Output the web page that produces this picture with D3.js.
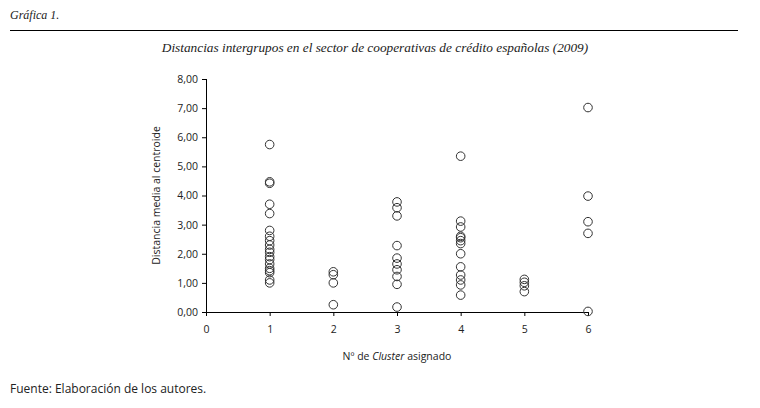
<!DOCTYPE html>
<html>
<head>
<meta charset="utf-8">
<script src="https://cdn.jsdelivr.net/npm/d3@7"></script>
<style>
  body { margin: 0; background: #fff; }
  text { fill: #222; }
</style>
</head>
<body>
<div id="chart"></div>
<script>
// Distancias intergrupos, one array per cluster
var cluster1 = [5.75, 4.47, 4.42, 3.70, 3.38, 2.80, 2.60, 2.45, 2.30, 2.15, 2.05, 1.90, 1.80, 1.65, 1.50, 1.42, 1.35, 1.10, 1.00];
var cluster2 = [1.38, 1.28, 1.00, 0.25];
var cluster3 = [3.78, 3.58, 3.30, 2.28, 1.85, 1.65, 1.45, 1.22, 0.95, 0.17];
var cluster4 = [5.35, 3.12, 2.92, 2.60, 2.55, 2.45, 2.35, 2.00, 1.55, 1.27, 1.10, 0.93, 0.58];
var cluster5 = [1.12, 1.02, 0.90, 0.70];
var cluster6 = [7.02, 3.98, 3.10, 2.70, 0.02];

var clusters = [cluster1, cluster2, cluster3, cluster4, cluster5, cluster6];
var xTicks = [0, 1, 2, 3, 4, 5, 6];
var yTicks = [0, 1, 2, 3, 4, 5, 6, 7, 8];

var svgWidth = 760,
    svgHeight = 408;

var margin = {left: 206, right: 172, top: 79, bottom: 96};
var width = svgWidth - margin.left - margin.right,
    height = svgHeight - margin.top - margin.bottom;

var svg = d3.select("#chart")
    .append("svg")
        .attr("width", svgWidth)
        .attr("height", svgHeight);

// Header
svg.append("text")
    .attr("x", 10)
    .attr("y", 19)
    .attr("font-family", "Liberation Serif, serif")
    .attr("font-style", "italic")
    .attr("font-size", "12px")
    .text("Gráfica 1.");

svg.append("line")
    .attr("x1", 10).attr("x2", 738)
    .attr("y1", 30.5).attr("y2", 30.5)
    .attr("stroke", "#000")
    .attr("stroke-width", 1);

svg.append("text")
    .attr("x", 375)
    .attr("y", 52)
    .attr("text-anchor", "middle")
    .attr("font-family", "Liberation Serif, serif")
    .attr("font-style", "italic")
    .attr("font-size", "13.3px")
    .text("Distancias intergrupos en el sector de cooperativas de crédito españolas (2009)");

var g = svg.append("g")
    .attr("transform", `translate(${margin.left}, ${margin.top})`);

// Scales
var x = d3.scaleLinear().domain([0, 6]).range([0, width]);
var y = d3.scaleLinear().domain([0, 8]).range([height, 0]);

var fmt = d => d3.format(".2f")(d).replace(".", ",");

var yAxisGroup = g.append("g")
    .call(d3.axisLeft(y).tickValues(yTicks).tickFormat(fmt).tickSize(4).tickPadding(4));

var xAxisGroup = g.append("g")
    .attr("transform", `translate(0, ${height})`)
    .call(d3.axisBottom(x).tickValues(xTicks).tickFormat(d3.format("d")).tickSize(4).tickPadding(10));

[xAxisGroup, yAxisGroup].forEach(ax => {
    ax.select(".domain").attr("stroke", "#000");
    ax.selectAll("text")
        .attr("font-family", "Open Sans, sans-serif")
        .attr("font-size", "10.5px")
        .attr("fill", "#333");
    ax.selectAll(".tick line").attr("stroke", "#000");
});
// plain domain lines without outer ticks
yAxisGroup.select(".domain").attr("d", `M0.5,${y(8)}V${y(0)}`);
xAxisGroup.select(".domain").attr("d", `M0,0.5H${x(6)}`);

// Axis titles
g.append("text")
    .attr("transform", "rotate(-90)")
    .attr("x", -height / 2)
    .attr("y", -46)
    .attr("text-anchor", "middle")
    .attr("font-family", "Open Sans, sans-serif")
    .attr("font-size", "10.5px")
    .attr("fill", "#333")
    .text("Distancia media al centroide");

var xLabel = g.append("text")
    .attr("x", x(3))
    .attr("y", height + 48)
    .attr("text-anchor", "middle")
    .attr("font-family", "Open Sans, sans-serif")
    .attr("font-size", "10.5px")
    .attr("fill", "#333");
xLabel.append("tspan").text("Nº de ");
xLabel.append("tspan").attr("font-style", "italic").text("Cluster");
xLabel.append("tspan").text(" asignado");

// Points
var points = [];
clusters.forEach((vals, i) => vals.forEach(v => points.push({cluster: i + 1, value: v})));

g.selectAll("circle.pt")
    .data(points)
    .enter()
    .append("circle")
        .attr("class", "pt")
        .attr("cx", d => x(d.cluster))
        .attr("cy", d => y(d.value))
        .attr("r", 4.3)
        .attr("fill", "none")
        .attr("stroke", "#333")
        .attr("stroke-width", 1);

// Footer
svg.append("text")
    .attr("x", 10)
    .attr("y", 393)
    .attr("font-family", "Open Sans, sans-serif")
    .attr("font-size", "12px")
    .attr("fill", "#000")
    .text("Fuente: Elaboración de los autores.");
</script>
</body>
</html>
